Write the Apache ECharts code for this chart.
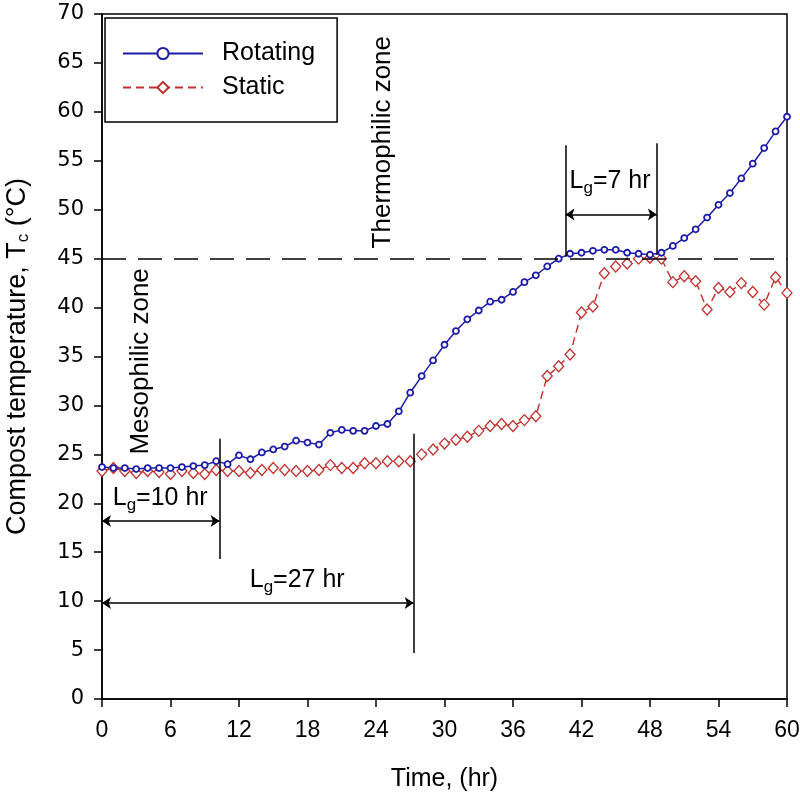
<!DOCTYPE html>
<html><head><meta charset="utf-8">
<script src="https://cdn.jsdelivr.net/npm/echarts@6/dist/echarts.min.js"></script>
<style>html,body{margin:0;padding:0;background:#fff}#c{width:800px;height:804px}</style>
</head><body><div id="c"></div>
<script>
// ---- data ----
const timeHr = [0,1,2,3,4,5,6,7,8,9,10,11,12,13,14,15,16,17,18,19,20,21,22,23,24,25,26,27,28,29,30,31,32,33,34,35,36,37,38,39,40,41,42,43,44,45,46,47,48,49,50,51,52,53,54,55,56,57,58,59,60];
const rotating = [23.7,23.6,23.6,23.5,23.6,23.6,23.6,23.7,23.8,23.9,24.3,24.0,24.9,24.5,25.2,25.5,25.8,26.4,26.2,26.0,27.2,27.5,27.4,27.4,27.9,28.1,29.4,31.3,33.0,34.6,36.2,37.6,38.8,39.7,40.6,40.8,41.6,42.6,43.3,44.2,45.0,45.5,45.6,45.8,45.9,45.9,45.6,45.5,45.4,45.6,46.3,47.1,48.0,49.2,50.5,51.7,53.2,54.7,56.3,58.0,59.5];
const staticT = [23.3,23.6,23.3,23.1,23.3,23.2,23.0,23.3,23.1,23.0,23.4,23.3,23.3,23.1,23.4,23.6,23.4,23.3,23.3,23.4,23.9,23.6,23.6,24.1,24.1,24.3,24.3,24.3,25.0,25.5,26.1,26.5,26.8,27.4,27.9,28.1,27.9,28.5,28.9,33.0,34.0,35.2,39.5,40.1,43.5,44.2,44.5,45.0,45.1,45.0,42.6,43.2,42.7,39.8,42.0,41.6,42.5,41.6,40.3,43.1,41.5];
const seriesNames = ['Rotating','Static'];
const thresholdTemp = 45;
const lagRotating = 10.3;   // hr, end of lag phase (rotating)
const lagStatic = 27.3;     // hr, end of lag phase (static)
const lagThermo = [40.6, 48.6];
const lagLabels = ['=10 hr','=27 hr','=7 hr'];

// ---- layout constants ----
const BLUE = '#1c1ca8', RED = '#c0302c';
const FONT = 'Liberation Sans, Arial, sans-serif';
const NARROW = 'Liberation Sans Narrow, Liberation Sans, Arial, sans-serif';

const chart = echarts.init(document.getElementById('c'), null, {renderer:'canvas'});
const pair = a => timeHr.map((t,i)=>[t,a[i]]);
const lineSt = {color:'#000', width:1.5, type:'solid'};
function seg(x1,y1,x2,y2,sym){return [{coord:[x1,y1],symbol:sym},{coord:[x2,y2],symbol:sym}];}

const dashed = seg(0,thresholdTemp,60,thresholdTemp,'none');
dashed[0].lineStyle = {type:[24,12],width:1.5,color:'#000'};

chart.setOption({
  animation:false,
  backgroundColor:'#fff',
  grid:{left:102,right:13,top:14,bottom:105,containLabel:false,outerBoundsMode:'none',
        show:true,borderColor:'#000',borderWidth:1.5,backgroundColor:'transparent'},
  legend:{
    left:105, top:18, orient:'vertical', itemWidth:80, itemHeight:14, itemGap:9,
    padding:[23,22,22,17], borderColor:'#000', borderWidth:1.5, backgroundColor:'#fff',
    textStyle:{fontFamily:FONT,fontSize:25,color:'#000',padding:[0,0,0,14]},
    data:seriesNames
  },
  xAxis:{
    type:'value', min:0, max:60, interval:6,
    name:'Time, (hr)', nameLocation:'middle', nameGap:68,
    nameTextStyle:{fontFamily:NARROW,fontSize:25,color:'#000'},
    axisLine:{lineStyle:{color:'#000',width:1.5}},
    axisTick:{show:true,inside:false,length:8,lineStyle:{color:'#000',width:1.5}},
    axisLabel:{fontFamily:NARROW,fontSize:23,color:'#000',margin:20},
    splitLine:{show:false}
  },
  yAxis:{
    type:'value', min:0, max:70, interval:5,
    name:'Compost temperature, T{s|c} (°C)', nameLocation:'middle', nameGap:70, nameRotate:90,
    nameTextStyle:{fontFamily:FONT,fontSize:27,color:'#000',rich:{s:{fontFamily:FONT,fontSize:17,color:'#000',padding:[12,0,0,0]}}},
    axisLine:{lineStyle:{color:'#000',width:1.5}},
    axisTick:{show:true,inside:false,length:8,lineStyle:{color:'#000',width:1.5}},
    axisLabel:{fontFamily:'DejaVu Sans, sans-serif',fontSize:21,color:'#000',margin:18},
    splitLine:{show:false}
  },
  series:[
    {name:seriesNames[0], type:'line', data:pair(rotating), symbol:'circle', symbolSize:6,
     lineStyle:{color:BLUE,width:1.5}, itemStyle:{color:'#fff',borderColor:BLUE,borderWidth:1.8}, z:4},
    {name:seriesNames[1], type:'line', data:pair(staticT), symbol:'diamond', symbolSize:[10,11],
     lineStyle:{color:RED,width:1.4,type:[8,5]}, itemStyle:{color:'#fff',borderColor:RED,borderWidth:1.3}, z:3},
    {name:'annot', type:'line', data:[], silent:true, z:2,
     markLine:{silent:true, symbolSize:9, label:{show:false}, lineStyle:lineSt, animation:false,
       data:[
         dashed,
         seg(lagRotating,14.3,lagRotating,26.6,'none'),
         seg(0,18.2,lagRotating,18.2,'arrow'),
         seg(lagStatic,4.7,lagStatic,27.1,'none'),
         seg(0,9.8,lagStatic,9.8,'arrow'),
         seg(lagThermo[0],45.2,lagThermo[0],56.6,'none'),
         seg(lagThermo[1],45.4,lagThermo[1],56.8,'none'),
         seg(lagThermo[0],49.5,lagThermo[1],49.5,'arrow')
       ]}
    }
  ]
});

const px = p => chart.convertToPixel({gridIndex:0}, p);
const lagText = (p, txt) => {
  const q = px(p);
  return {type:'text', x:q[0], y:q[1], z:10, style:{
    text:'{a|L}{s|g}{a|'+txt+'}', align:'center', verticalAlign:'middle', fill:'#000',
    rich:{a:{fontFamily:FONT,fontSize:25,fill:'#000'},s:{fontFamily:FONT,fontSize:17,fill:'#000',padding:[14,0,0,0]}}}};
};
const zoneText = (p, txt) => {
  const q = px(p);
  return {type:'text', x:q[0], y:q[1], rotation:Math.PI/2, z:10, style:{
    text:txt, align:'center', verticalAlign:'middle', fill:'#000', fontFamily:FONT, fontSize:26}};
};
chart.setOption({graphic:[
  lagText([5.1,20.5], lagLabels[0]),
  lagText([17.1,12.1], lagLabels[1]),
  lagText([44.5,52.9], lagLabels[2]),
  zoneText([3.4,34.5], 'Mesophilic zone'),
  zoneText([24.6,56.9], 'Thermophilic zone')
]});
</script></body></html>
